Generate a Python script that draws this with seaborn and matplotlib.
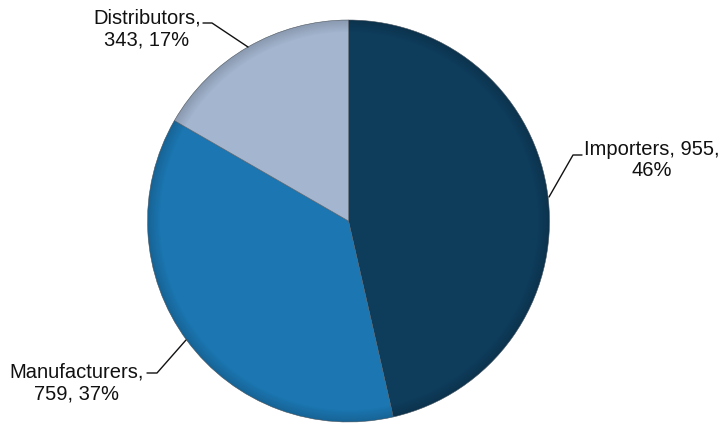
import matplotlib
matplotlib.use("Agg")
import matplotlib.pyplot as plt
import seaborn as sns
import numpy as np

# Data
categories = ["Importers", "Manufacturers", "Distributors"]
counts = [955, 759, 343]
colors = ["#0e3c5b", "#1b76b1", "#a3b5cf"]

sns.set_theme(style="white")
plt.rcParams["font.family"] = ["Liberation Sans", "DejaVu Sans"]

W, H = 721, 423
fig = plt.figure(figsize=(W / 100, H / 100), dpi=100)

# pie geometry in pixels (from top-left)
cx, cy, r = 348.5, 221, 201
ax = fig.add_axes([(cx - r) / W, (H - cy - r) / H, 2 * r / W, 2 * r / H])

wedges, _ = ax.pie(
    counts,
    colors=colors,
    startangle=90,
    counterclock=False,
    radius=1.0,
    wedgeprops=dict(edgecolor="#55606a", linewidth=0.4),
)
ax.set_xlim(-1, 1)
ax.set_ylim(-1, 1)
ax.set_aspect("equal")
ax.axis("off")

# subtle radial shading for a soft bevel look
n = 400
yy, xx = np.mgrid[-1:1:n * 1j, -1:1:n * 1j]
rr = np.sqrt(xx ** 2 + yy ** 2)
shade = np.zeros((n, n, 4))
shade[..., 3] = np.clip((rr - 0.94) / 0.06, 0, 1) * 0.15
img = ax.imshow(shade, extent=(-1, 1, -1, 1), origin="lower", zorder=3,
                interpolation="bilinear")
img.set_clip_path(plt.Circle((0, 0), 1.0, transform=ax.transData))
ax.set_xlim(-1, 1)
ax.set_ylim(-1, 1)


def px(x, y):
    return ((x - cx) / r, (cy - y) / r)


total = sum(counts)
pct = [round(100 * v / total) for v in counts]

# label text with leader lines: (text center, text, leader path)
specs = [
    ((652, 160), f"{categories[0]}, {counts[0]},\n{pct[0]}%",
     [(549, 197), (573, 155), (582, 155)]),
    ((77, 383), f"{categories[1]},\n{counts[1]}, {pct[1]}%",
     [(186, 340), (157, 373), (147, 373)]),
    ((147, 29), f"{categories[2]},\n{counts[2]}, {pct[2]}%",
     [(248, 47), (212, 23), (203, 23)]),
]

for (tx, ty), text, path in specs:
    x, y = px(tx, ty)
    ax.text(x, y, text, ha="center", va="center", fontsize=14.5, color="#111111",
            linespacing=1.15, zorder=5, clip_on=False)
    pts = np.array([px(a, b) for a, b in path])
    ax.plot(pts[:, 0], pts[:, 1], color="#111111", lw=1.0, zorder=5, clip_on=False)

fig.savefig("out.png", dpi=100, facecolor="white")
